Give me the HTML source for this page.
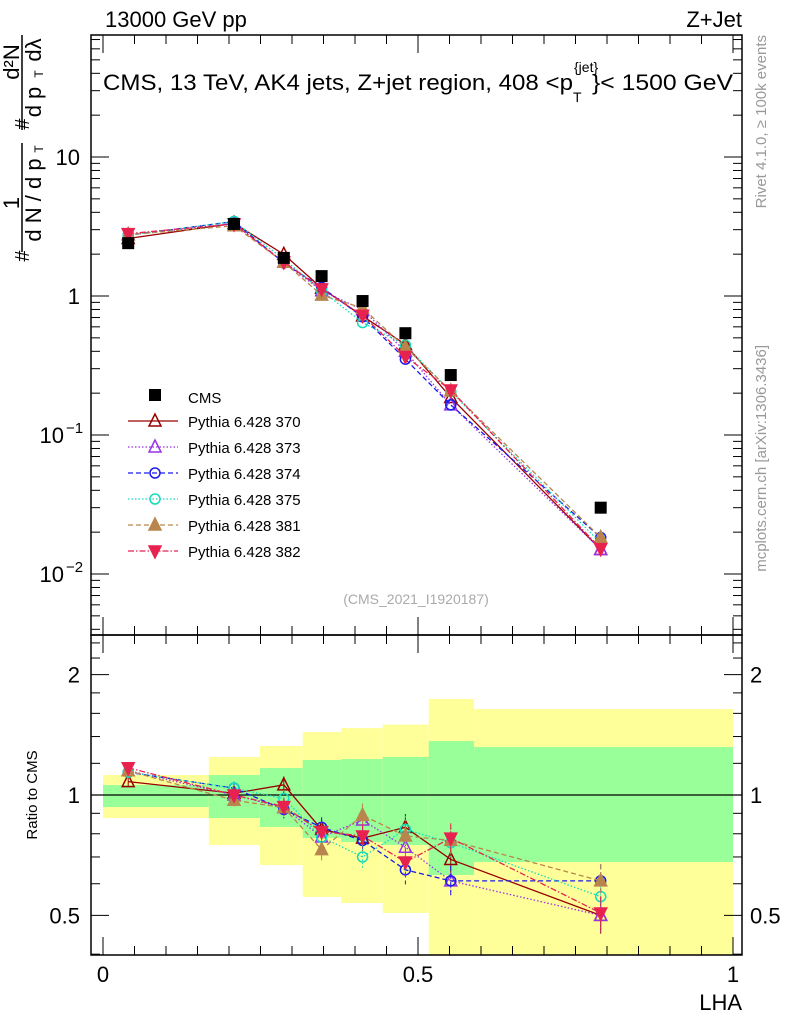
<!DOCTYPE html>
<html><head><meta charset="utf-8"><style>
body{margin:0;background:#fff;}
svg text{font-family:"Liberation Sans",sans-serif;}
</style></head><body>
<svg id="c" width="786" height="1024" xmlns="http://www.w3.org/2000/svg"></svg>
<script>
const xPts=[0.04,0.208,0.287,0.347,0.412,0.48,0.552,0.79];
const binEdges=[0,0.168,0.249,0.317,0.378,0.444,0.517,0.589,1.0];
const cmsVals=[2.4,3.3,1.88,1.39,0.92,0.54,0.27,0.030];
const bandYelHi=[1.122,1.245,1.326,1.437,1.47,1.50,1.738,1.64];
const bandYelLo=[0.876,0.75,0.668,0.556,0.537,0.507,0.39,0.39];
const bandGrnHi=[1.059,1.122,1.168,1.223,1.23,1.245,1.364,1.318];
const bandGrnLo=[0.933,0.876,0.832,0.781,0.763,0.75,0.631,0.68];
const seriesNames=["Pythia 6.428 370","Pythia 6.428 373","Pythia 6.428 374","Pythia 6.428 375","Pythia 6.428 381","Pythia 6.428 382"];
const r370=[1.08,1.01,1.06,0.82,0.78,0.83,0.69,0.50];
const r373=[1.15,1.0,0.93,0.785,0.866,0.74,0.61,0.50];
const r374=[1.14,1.04,0.92,0.83,0.77,0.65,0.61,0.61];
const r375=[1.14,1.04,0.98,0.785,0.70,0.82,0.76,0.557];
const r381=[1.15,0.97,0.93,0.73,0.89,0.79,0.77,0.61];
const r382=[1.17,1.0,0.935,0.81,0.79,0.68,0.78,0.507];
const ratios=[r370,r373,r374,r375,r381,r382];
const styles=[
 {c:"#990000",dash:"",m:"tri",fill:false},
 {c:"#9a32e6",dash:"1.5,2",m:"tri",fill:false},
 {c:"#1a1aee",dash:"5,3",m:"circ",fill:false},
 {c:"#11ddbb",dash:"1.5,2",m:"circ",fill:false},
 {c:"#b8864c",dash:"5,3",m:"tri",fill:true},
 {c:"#e8224f",dash:"6,2,1.5,2",m:"tridown",fill:true}];

const NS="http://www.w3.org/2000/svg";
const svg=document.getElementById('c');
function el(tag,attrs,parent){const e=document.createElementNS(NS,tag);for(const k in attrs)e.setAttribute(k,attrs[k]);(parent||svg).appendChild(e);return e;}
const X0=91,X1=742,Y0=35,YM=635,YB=955;
const sx=v=>103+630*v;
const sy=v=>296-139*Math.log10(v);
const sr=v=>795-400*Math.log10(v);

for(let i=0;i<8;i++){
  const a=sx(binEdges[i]),b=sx(binEdges[i+1]);
  const yt=Math.max(sr(bandYelHi[i]),YM),yb=Math.min(sr(bandYelLo[i]),YB);
  let r=el('rect',{x:a,y:yt,width:b-a,height:yb-yt,fill:'#ffff99'});
  
  
  const gt=sr(bandGrnHi[i]),gb=sr(bandGrnLo[i]);
  r=el('rect',{x:a,y:gt,width:b-a,height:gb-gt,fill:'#99ff99'});
  
  
}
el('line',{x1:X0,x2:X1,y1:795,y2:795,stroke:'#000','stroke-width':1.2});

el('rect',{x:X0,y:Y0,width:X1-X0,height:YM-Y0,fill:'none',stroke:'#000','stroke-width':1.5});
el('rect',{x:X0,y:YM,width:X1-X0,height:YB-YM,fill:'none',stroke:'#000','stroke-width':1.5});

for(let i=0;i<=20;i++){const v=i*0.05,x=sx(v),L=(i%10==0)?18:9;
  [[Y0,1],[YM,-1],[YM,1],[YB,-1]].forEach(([y,d])=>el('line',{x1:x,x2:x,y1:y,y2:y+d*L,stroke:'#000'}));}
[0,0.5,1].forEach(v=>{const t=el('text',{x:sx(v),y:982,'font-size':22,'text-anchor':'middle'});t.textContent=String(v);
 });
let t=el('text',{x:742,y:1010,'font-size':22,'text-anchor':'end'});t.textContent='LHA';


for(let d=-3;d<=1;d++){for(let k=1;k<=9;k++){const v=k*Math.pow(10,d),y=sy(v);if(y<Y0||y>YM)continue;
 const L=k==1?18:9;el('line',{x1:X0,x2:X0+L,y1:y,y2:y,stroke:'#000'});el('line',{x1:X1,x2:X1-L,y1:y,y2:y,stroke:'#000'});}}
[[10,'10'],[1,'1']].forEach(([v,s])=>{const t=el('text',{x:80,y:sy(v)+8,'font-size':22,'text-anchor':'end'});t.textContent=s;
 });
[[0.1,'−1'],[0.01,'−2']].forEach(([v,s])=>{const t=el('text',{x:64,y:sy(v)+8,'font-size':22,'text-anchor':'end'});t.textContent='10';
 
 const e=el('text',{x:66,y:sy(v)-2,'font-size':15});e.textContent=s;});

[0.4,0.5,0.6,0.7,0.8,0.9,1,1.2,1.4,1.6,1.8,2,2.2,2.4].forEach(v=>{const y=sr(v);if(y<YM||y>YB)return;
 const L=(v==0.5||v==1||v==2)?18:9;el('line',{x1:X0,x2:X0+L,y1:y,y2:y,stroke:'#000'});el('line',{x1:X1,x2:X1-L,y1:y,y2:y,stroke:'#000'});});
[[2,'2'],[1,'1'],[0.5,'0.5']].forEach(([v,s])=>{
 let t=el('text',{x:80,y:sr(v)+8,'font-size':22,'text-anchor':'end'});t.textContent=s;
 
 t=el('text',{x:750,y:sr(v)+8,'font-size':22});t.textContent=s;});
t=el('text',{x:0,y:0,'font-size':15,'text-anchor':'middle',transform:'translate(37,795) rotate(-90)'});t.textContent='Ratio to CMS';


t=el('text',{x:105,y:27,'font-size':22});t.textContent='13000 GeV pp';
t=el('text',{x:742,y:27,'font-size':22,'text-anchor':'end'});t.textContent='Z+Jet';

// title
t=el('text',{x:103,y:90,'font-size':22});

const ts1=el('tspan',{},t);ts1.textContent='CMS, 13 TeV, AK4 jets, Z+jet region, 408 <p';
t.setAttribute('textLength',470);t.setAttribute('lengthAdjust','spacingAndGlyphs');
el('text',{x:574,y:72,'font-size':14}).textContent='{jet}';
el('text',{x:573,y:102,'font-size':14}).textContent='T';
const t2=el('text',{x:592,y:90,'font-size':22,textLength:141,lengthAdjust:'spacingAndGlyphs'});t2.textContent='}< 1500 GeV';

t=el('text',{x:416,y:604,'font-size':14,fill:'#aaa','text-anchor':'middle'});t.textContent='(CMS_2021_I1920187)';

t=el('text',{x:0,y:0,'font-size':15,fill:'#999','text-anchor':'end',transform:'translate(766,35) rotate(-90)'});t.textContent='Rivet 4.1.0, ≥ 100k events';

t=el('text',{x:0,y:0,'font-size':15,fill:'#999','text-anchor':'end',transform:'translate(766,345) rotate(-90)'});t.textContent='mcplots.cern.ch [arXiv:1306.3436]';


// y axis title
const g=el('g',{});
function rt(x,y,s,fs){const e=el('text',{x:0,y:0,'font-size':fs||22,'text-anchor':'middle',transform:`translate(${x},${y}) rotate(-90)`},g);e.textContent=s;return e;}
// lower fraction
rt(29,256,'#',20);
el('line',{x1:22,x2:22,y1:143,y2:252,stroke:'#000','stroke-width':1.5},g);
rt(19,203,'1',22);
rt(41,200,'d N / d p',22);
rt(43,149,'T',12);
// upper fraction
rt(29,124,'#',20);
el('line',{x1:22,x2:22,y1:35,y2:130,stroke:'#000','stroke-width':1.5},g);
rt(19,62,'d²N',22);
rt(41,102,'d p',22);
rt(43,74,'T',12);
rt(41,50,'dλ',22);

function marker(x,y,s,parent,size){size=size||6;const f=s.fill?s.c:'none';let e;
 if(s.m=='circ')e=el('circle',{cx:x,cy:y,r:size-1,fill:f,stroke:s.c,'stroke-width':1.5},parent);
 else if(s.m=='tri')e=el('polygon',{points:`${x},${y-size-1} ${x-size},${y+size-1} ${x+size},${y+size-1}`,fill:f,stroke:s.c,'stroke-width':1.5},parent);
 else e=el('polygon',{points:`${x},${y+size+1} ${x-size},${y-size+1} ${x+size},${y-size+1}`,fill:f,stroke:s.c,'stroke-width':1.5},parent);
 return e;}

ratios.forEach((rr,si)=>{const s=styles[si];
 const gm=el('g',{});
 const pm=xPts.map((x,i)=>sx(x)+','+sy(cmsVals[i]*rr[i])).join(' ');
 el('polyline',{points:pm,fill:'none',stroke:s.c,'stroke-width':1.3,'stroke-dasharray':s.dash},gm);
 const pr=xPts.map((x,i)=>sx(x)+','+sr(rr[i])).join(' ');
 el('polyline',{points:pr,fill:'none',stroke:s.c,'stroke-width':1.3,'stroke-dasharray':s.dash},gm);
 xPts.forEach((x,i)=>{const e=0.03+0.01*i;
  el('line',{x1:sx(x),x2:sx(x),y1:sr(rr[i]*(1+e)),y2:sr(rr[i]*(1-e)),stroke:s.c,'stroke-dasharray':s.dash},gm);
  marker(sx(x),sy(cmsVals[i]*rr[i]),s,gm);marker(sx(x),sr(rr[i]),s,gm);});
});
const gc=el('g',{});
xPts.forEach((x,i)=>el('rect',{x:sx(x)-6,y:sy(cmsVals[i])-6,width:12,height:12,fill:'#000'},gc));

const lg=el('g',{});
el('rect',{x:149,y:389,width:12,height:12,fill:'#000'},lg);
let lt=el('text',{x:188,y:403,'font-size':15},lg);lt.textContent='CMS';
seriesNames.forEach((n,i)=>{const y=421+26*i,s=styles[i];
 el('line',{x1:128,x2:178,y1:y,y2:y,stroke:s.c,'stroke-width':1.3,'stroke-dasharray':s.dash},lg);
 marker(155,y,s,lg);
 const e=el('text',{x:188,y:y+6,'font-size':15},lg);e.textContent=n;
 });
</script>
</body></html>
